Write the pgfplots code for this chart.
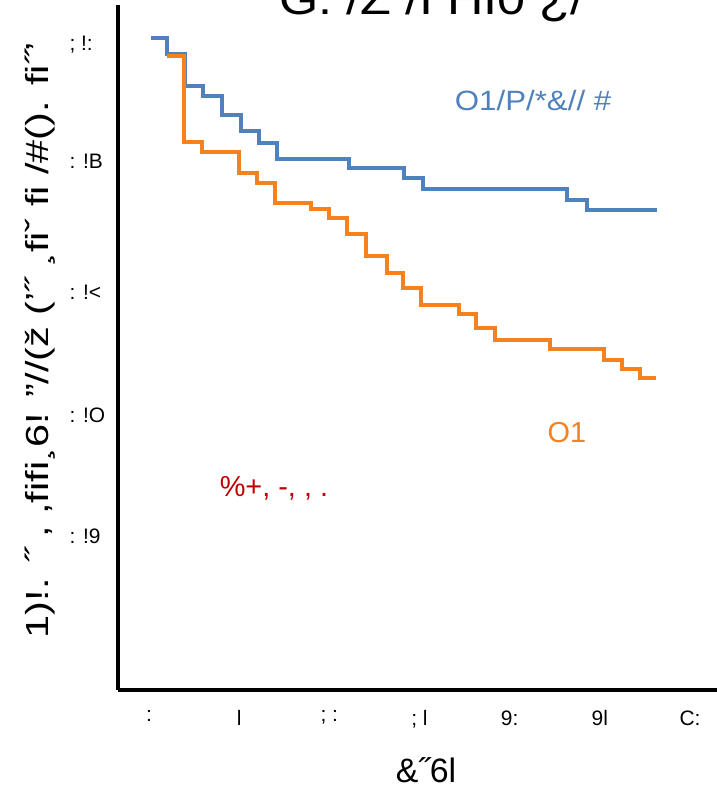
\documentclass[border=0pt]{standalone}
\usepackage{fontspec}
\setmainfont{Liberation Sans}
\usepackage{pgfplots}
\pgfplotsset{compat=1.18}
\definecolor{kmblue}{HTML}{4F81BD}
\definecolor{kmorange}{HTML}{F5821F}
\definecolor{kmred}{HTML}{C00000}
\begin{document}
\begin{tikzpicture}
\begin{axis}[
  at={(118bp,100bp)}, anchor=south west,
  scale only axis, width=599bp, height=685bp,
  xmin=-1.719, xmax=31.5, ymin=-0.0602, ymax=1.0537,
  axis x line=bottom, axis y line=left,
  axis line style={line width=4bp,-},
  major tick length=0pt,
  xtick={0,5,10,15,20,25,30},
  xticklabels={:,l,; :,; l,9:,9l,C:},
  ytick={0.9886,0.7989,0.5865,0.387,0.189},
  yticklabels={; !:,: !B,: !<,: !O,: !9},
  ticklabel style={font=\fontsize{21}{24}\selectfont},
  xticklabel style={yshift=-17bp},
  yticklabel style={anchor=west, xshift=-52bp},
  clip=false,
]
\addplot[const plot, color=kmblue, line width=4bp] coordinates {
 (0.1,1.0) (1.01,0.974) (2.01,0.922) (2.98,0.906) (4.07,0.875) (5.09,0.849)
 (6.10,0.830) (7.12,0.804) (11.11,0.789) (14.14,0.773) (15.18,0.754)
 (23.17,0.737) (24.28,0.720) (28.16,0.720)
};
\addplot[const plot, color=kmorange, line width=4bp] coordinates {
 (1.01,0.970) (1.94,0.831) (2.94,0.815) (5.01,0.781) (6.01,0.764) (7.00,0.732)
 (8.97,0.722) (9.98,0.707) (11.00,0.681) (12.02,0.646) (13.18,0.618)
 (14.10,0.593) (15.09,0.566) (17.19,0.551) (18.12,0.528) (19.19,0.509)
 (22.24,0.494) (25.25,0.476) (26.23,0.461) (27.23,0.447) (28.12,0.447)
};
\node[kmblue, font=\fontsize{28}{32}\selectfont] at (axis cs:21.3,0.898) {\scalebox{1.12}[1]{O1/P/*\&// \#}};
\node[kmorange, font=\fontsize{29}{32}\selectfont] at (axis cs:23.18,0.359) {O1};
\node[kmred, font=\fontsize{29}{32}\selectfont] at (axis cs:6.93,0.268) {\%+, -, , .};
\end{axis}
\node[anchor=base, font=\fontsize{44}{48}\selectfont] at (432bp,775bp) {\scalebox{1.15}[1]{G. /Z /I HI0 ¿/}};
\node[rotate=90, font=\fontsize{32}{36}\selectfont] at (40bp,450bp) {\scalebox{1.3}[1]{1)!. ˝ , ,fifi¸6! "//(ž ('˝ ¸fiˇ fi /\#(). fi˝'}};
\node[anchor=base, font=\fontsize{34}{38}\selectfont] at (426bp,8bp) {\&˝6l};
\pgfresetboundingbox
\useasboundingbox (0,0) rectangle (717bp,790bp);
\end{tikzpicture}
\end{document}
